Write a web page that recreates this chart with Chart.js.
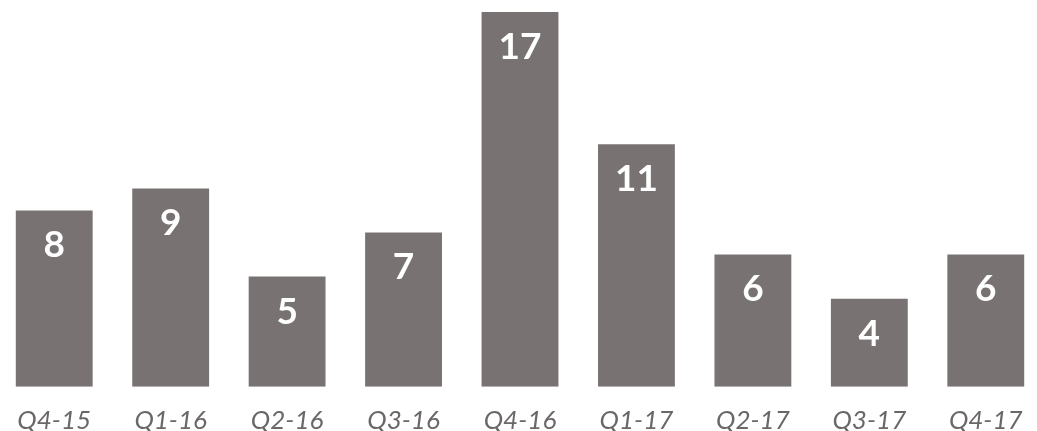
<!DOCTYPE html>
<html>
<head>
<meta charset="utf-8">
<script src="https://cdn.jsdelivr.net/npm/chart.js@4"></script>
<style>
  html, body { margin: 0; padding: 0; background: #fff; overflow: hidden; }
  #wrap { position: absolute; left: -4px; top: 0; width: 1048px; height: 454px; }
</style>
</head>
<body>
<div id="wrap"><canvas id="bars"></canvas></div>
<script>
var quarters = ["Q4-15", "Q1-16", "Q2-16", "Q3-16", "Q4-16", "Q1-17", "Q2-17", "Q3-17", "Q4-17"];
var counts = [8, 9, 5, 7, 17, 11, 6, 4, 6];

// white number inside the top of each bar
var valueLabels = {
  id: "valueLabels",
  afterDatasetsDraw: function (chart) {
    var ctx = chart.ctx;
    var meta = chart.getDatasetMeta(0);
    ctx.save();
    ctx.fillStyle = "#ffffff";
    ctx.font = "bold 37px Lato";
    ctx.textAlign = "center";
    ctx.textBaseline = "middle";
    for (var i = 0; i < meta.data.length; i++) {
      var bar = meta.data[i];
      ctx.fillText(String(counts[i]), bar.x, bar.y + 35);
    }
    ctx.restore();
  }
};

new Chart(document.getElementById("bars").getContext("2d"), {
  type: "bar",
  data: {
    labels: quarters,
    datasets: [{
      data: counts,
      backgroundColor: "#787273",
      borderWidth: 0,
      categoryPercentage: 1,
      barPercentage: 0.66
    }]
  },
  options: {
    responsive: true,
    maintainAspectRatio: false,
    animation: false,
    layout: { padding: 0 },
    plugins: {
      legend: { display: false },
      tooltip: { enabled: false }
    },
    scales: {
      x: {
        grid: { display: false, drawTicks: false },
        border: { display: false },
        ticks: {
          color: "#6b6767",
          padding: 18,
          font: { family: "Lato", size: 26, style: "italic" }
        }
      },
      y: {
        display: false,
        min: 0,
        max: 17.55
      }
    }
  },
  plugins: [valueLabels]
});
</script>
</body>
</html>
